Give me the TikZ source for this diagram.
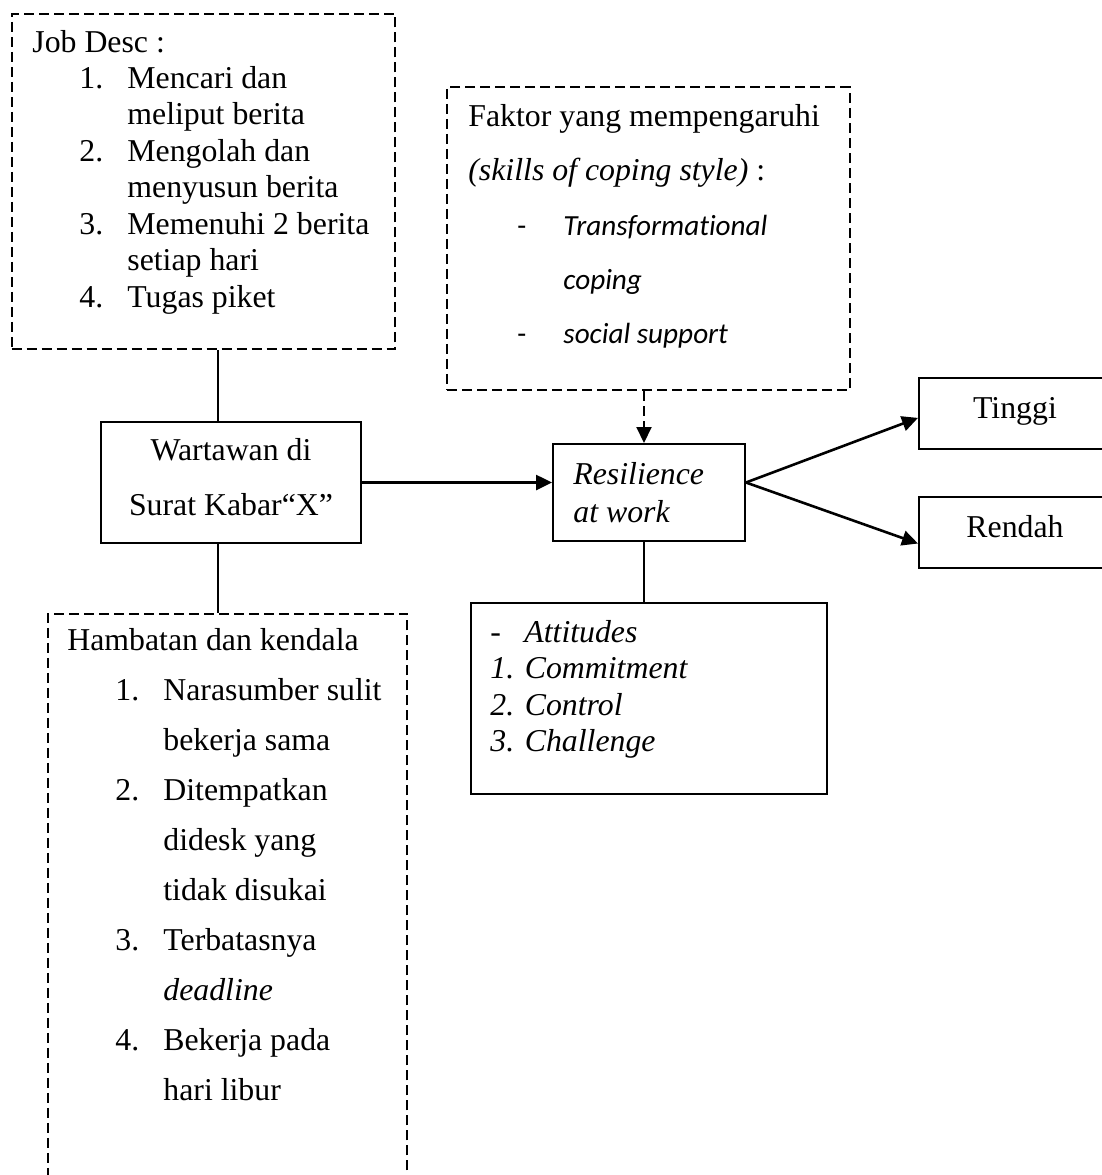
\documentclass[tikz,border=0pt]{standalone}
\usepackage{fontspec}
\setmainfont{Liberation Serif}
\newfontfamily\calibri[Ligatures=NoCommon]{Carlito}
\usetikzlibrary{arrows.meta}
\begin{document}
\begin{tikzpicture}[x=0.5pt,y=-0.5pt,
  box/.style={draw, line width=1pt, rectangle, inner sep=0pt, anchor=north west},
  dbox/.style={box, dash pattern=on 5pt off 2.5pt},
  txt/.style={anchor=base west, inner sep=0pt, font=\fontsize{15.9}{18}\selectfont},
  ctxt/.style={txt, anchor=base},
  cal/.style={anchor=base west, inner sep=0pt, font=\calibri\itshape\fontsize{14.6}{17}\selectfont},
  calr/.style={anchor=base west, inner sep=0pt, font=\calibri\fontsize{14.6}{17}\selectfont},
  arr/.style={line width=1.3pt, -{Triangle[length=8pt,width=7.5pt]}},
  conn/.style={line width=1pt},
]
\useasboundingbox (0,0) rectangle (1102,1175);
\fill[white] (0,0) rectangle (1102,1175);
\clip (0,0) rectangle (1102,1175);

% boxes
\node[dbox, minimum width=191.65pt, minimum height=167.65pt] (jd) at (10.7,12.7) {};
\node[box, minimum width=130pt, minimum height=60.5pt] (w) at (100,421) {};
\node[dbox, minimum width=179.65pt, minimum height=293.65pt] (hb) at (46.7,612.7) {};
\node[dbox, minimum width=201.3pt, minimum height=151.5pt] (fk) at (446,86) {};
\node[box, minimum width=96pt, minimum height=48.5pt] (res) at (552,443) {};
\node[box, minimum width=178pt, minimum height=95.5pt] (att) at (470,602) {};
\node[box, minimum width=101pt, minimum height=35.5pt] (tg) at (918,377) {};
\node[box, minimum width=101pt, minimum height=35.5pt] (rd) at (918,496) {};

\coordinate (lx) at (218,0);
\coordinate (rx) at (644,0);

% connectors
\draw[conn] (jd.south -| lx) -- (w.north -| lx);
\draw[conn] (w.south -| lx) -- (hb.north -| lx);
\draw[arr] (w.east) -- (w.east -| res.west);
\draw[arr, line width=1pt, dash pattern=on 5pt off 2.5pt] (fk.south -| rx) -- (res.north -| rx);
\draw[conn] (res.south -| rx) -- (att.north -| rx);
\draw[arr] (w.east -| res.east) -- ([yshift=-2.2pt]tg.west);
\draw[arr] (w.east -| res.east) -- ([yshift=-5.5pt]rd.west);

% Job Desc text
\node[txt] (jd0) at (32,52) {Job Desc :};
\node[txt] (jd1n) at (79,88) {1.};
\node[txt] (jd1) at (127,88) {Mencari dan};
\node[txt] (jd1b) at (127,124.5) {meliput berita};
\node[txt] (jd2n) at (79,161) {2.};
\node[txt] (jd2) at (127,161) {Mengolah dan};
\node[txt] (jd2b) at (127,197.5) {menyusun berita};
\node[txt] (jd3n) at (79,234) {3.};
\node[txt] (jd3) at (127,234) {Memenuhi 2 berita};
\node[txt] (jd3b) at (127,270.5) {setiap hari};
\node[txt] (jd4n) at (79,307) {4.};
\node[txt] (jd4) at (127,307) {Tugas piket};

% Faktor text
\node[txt] (fk0) at (468,126.5) {Faktor yang mempengaruhi};
\node[txt] (fk1) at (468,180) {\textit{(skills of coping style)} :};
\node[calr] (fkd1) at (517,235) {-};
\node[cal] (fk2) at (563,235) {Transformational};
\node[cal] (fk2b) at (563,289) {coping};
\node[calr] (fkd2) at (517,343) {-};
\node[cal] (fk3) at (563,343) {social support};

% Hambatan text
\node[txt] (hb0) at (67,650) {Hambatan dan kendala};
\node[txt] (hb1n) at (115,700) {1.};
\node[txt] (hb1) at (163,700) {Narasumber sulit};
\node[txt] (hb1b) at (163,750) {bekerja sama};
\node[txt] (hb2n) at (115,800) {2.};
\node[txt] (hb2) at (163,800) {Ditempatkan};
\node[txt] (hb2b) at (163,850) {didesk yang};
\node[txt] (hb2c) at (163,900) {tidak disukai};
\node[txt] (hb3n) at (115,950) {3.};
\node[txt] (hb3) at (163,950) {Terbatasnya};
\node[txt] (hb3b) at (163,1000) {\textit{deadline}};
\node[txt] (hb4n) at (115,1050) {4.};
\node[txt] (hb4) at (163,1050) {Bekerja pada};
\node[txt] (hb4b) at (163,1100) {hari libur};

% Wartawan text
\node[ctxt] (w1) at (231,460) {Wartawan di};
\node[ctxt] (w2) at (231,515) {Surat Kabar“X”};

% Resilience text
\node[txt] (r1) at (573,484) {\textit{Resilience}};
\node[txt] (r2) at (573,522) {\textit{at work}};

% Attitudes text
\node[txt] (a0d) at (490,642) {-};
\node[txt] (a0) at (524,642) {\textit{Attitudes}};
\node[txt] (a1) at (490,678.5) {\textit{1. Commitment}};
\node[txt] (a2) at (490,715) {\textit{2. Control}};
\node[txt] (a3) at (490,751.5) {\textit{3. Challenge}};

% outcomes
\node[ctxt] (tgt) at (1015,418) {Tinggi};
\node[ctxt] (rdt) at (1015,537) {Rendah};
\end{tikzpicture}
\end{document}
